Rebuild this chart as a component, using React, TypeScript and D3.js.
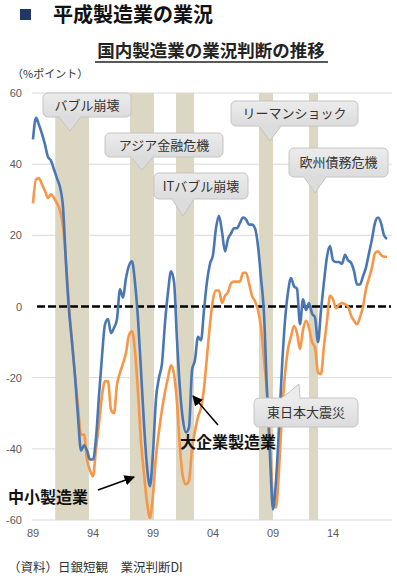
import React from "react";
import * as d3 from "d3";

// Quarterly data, 1989Q1 – 2018Q3 (Tankan business conditions DI)
const largeMfg: number[] = [
  47, 53, 51, 48.5, 45.5, 42, 41, 38.5, 36, 33.5,
  28, 12, -1, -10, -19.5, -31, -40.5, -39, -40.5, -43,
  -43, -37, -25, -14, -5, -3.5, -7.5, -6, -3.5, 4.8,
  2.5, 8, 11.5, 12.7, 6.7, -3.5, -18, -33, -45, -50.5,
  -41, -26, -20, -16, -4.6, 4, 9.9, 7, -9.5, -23.3,
  -32, -35.4, -34, -18, -15, -8.5, -9.5, -1, 7, 12,
  14.5, 22, 25.5, 21, 15.5, 19, 20.5, 22, 22, 23.5,
  25, 24.5, 23, 23, 22, 17, 8, -2, -24, -42,
  -57, -49, -34, -17, -4, 4, 8, 5.7, 5, -5,
  2, -1, 1, -2, -3, -10, -1, 7, 14, 17,
  13, 12.5, 12.5, 12, 14.5, 13, 12.3, 10, 6.2, 6.2,
  8.5, 11, 15, 19, 23.5, 25, 23.5, 20, 19,
];
const smallMfg: number[] = [
  29, 35.7, 36, 34.3, 32.5, 30.5, 31.5, 30.5, 29, 27,
  22.5, 13, 0, -10, -19.5, -28, -36, -36, -43, -46,
  -47.7, -40, -33, -25, -21, -21, -29, -30, -22, -18.6,
  -16, -13, -8, -7, -12.5, -24, -38, -47, -55, -59.4,
  -53, -42, -35, -29, -24, -20, -16.5, -19, -27, -40,
  -48, -50, -49, -40, -35, -31, -28.5, -23, -14, -5,
  2, 4.5, 4.5, 1, 3, 4, 6.5, 7, 7, 7,
  9.5, 9.5, 6.5, 3, 1.5, -1, -6, -15, -24, -37,
  -54, -56.5, -46, -30, -19, -12, -8.5, -5.5, -7.5, -12,
  -6.5, -4, -6, -10, -11.5, -18.5, -19, -11, -4, 3,
  2, -0.5, 0.5, 1, 0.6, 0, -2.5, -4, -5, -3,
  0, 5, 8, 11, 15, 15.5, 14.5, 14, 14,
];
const startYear = 1989;
const xTickYears: number[] = [1989, 1994, 1999, 2004, 2009, 2014];
const xTickLabels: string[] = ["89", "94", "99", "04", "09", "14"];
const yTicks: number[] = [60, 40, 20, 0, -20, -40, -60];
// recession bands (start year, end year)
const bandStarts: number[] = [1990.85, 1997.08, 2000.92, 2007.83, 2012.0];
const bandEnds: number[] = [1993.67, 1999.08, 2002.42, 2009.0, 2012.75];
const calloutTexts: string[] = ["バブル崩壊", "アジア金融危機", "ITバブル崩壊", "リーマンショック", "欧州債務危機", "東日本大震災"];

const W = 397;
const H = 579;
const JP = "'Noto Sans CJK JP', 'Noto Sans', sans-serif";
const NUM = "'Liberation Sans', Arial, sans-serif";

export default function App() {
  const x = d3.scaleLinear().domain([0, 118]).range([33, 387]);
  const y = d3.scaleLinear().domain([-60, 60]).range([520, 93]);
  const xYear = (yr: number) => x((yr - startYear) * 4);

  const line = d3
    .line<number>()
    .x((_, i) => x(i))
    .y((d) => y(d))
    .curve(d3.curveMonotoneX);

  // callout layout: box [x0, y0, x1, y1], pointer [baseL, baseR, tipX, tipY]
  const boxes = [
    { b: [43, 93, 131, 117], p: [59, 81, 70, 131] },
    { b: [105, 133, 223, 157], p: [131, 153, 142, 170] },
    { b: [154, 173, 248, 199], p: [172, 194, 183, 216] },
    { b: [231, 101, 358, 126], p: [259, 281, 270, 141] },
    { b: [289, 148, 388, 177], p: [304, 326, 315, 193] },
    { b: [254, 398, 358, 427], p: [282, 300, 299, 384] },
  ];

  return (
    <svg
      width={W}
      height={H}
      viewBox={`0 0 ${W} ${H}`}
      style={{ position: "absolute", left: 0, top: 0, background: "#fff" }}
    >
      <defs>
        <marker id="arr" viewBox="0 0 10 10" refX="9" refY="5" markerWidth="7" markerHeight="7" orient="auto-start-reverse">
          <path d="M0,0 L10,5 L0,10 z" fill="#000" />
        </marker>
        <linearGradient id="cg" x1="0" y1="0" x2="0" y2="1">
          <stop offset="0" stopColor="#ececec" />
          <stop offset="1" stopColor="#dcdcdc" />
        </linearGradient>
      </defs>

      {/* Title */}
      <rect x={20} y={9} width={11} height={11} fill="#1f3864" />
      <text x={53} y={22} fontFamily={JP} fontWeight="bold" fontSize={20} fill="#111">
        平成製造業の業況
      </text>
      <text x={211} y={57} textAnchor="middle" fontFamily={JP} fontWeight="bold" fontSize={17.5} fill="#222">
        国内製造業の業況判断の推移
      </text>
      <line x1={95} x2={328} y1={62} y2={62} stroke="#222" strokeWidth={1.5} />
      <text x={12} y={78} fontFamily={JP} fontSize={11} fill="#333">
        （%ポイント）
      </text>

      {/* gridlines */}
      {yTicks.filter((t) => t !== 0).map((t) => (
        <line key={t} x1={32} x2={392} y1={y(t)} y2={y(t)} stroke="#d9d9d9" strokeWidth={1} />
      ))}

      {/* bands */}
      {bandStarts.map((s, i) => (
        <rect key={i} x={xYear(s)} y={y(60)} width={xYear(bandEnds[i]) - xYear(s)} height={y(-60) - y(60)} fill="#dcd7c2" />
      ))}

      {yTicks.map((t) => (
        <text key={t} x={22} y={y(t) + 4} textAnchor="end" fontFamily={NUM} fontSize={11} fill="#595959">
          {t}
        </text>
      ))}
      {xTickYears.map((yr, i) => (
        <text key={yr} x={xYear(yr)} y={537} textAnchor="middle" fontFamily={NUM} fontSize={11} fill="#595959">
          {xTickLabels[i]}
        </text>
      ))}

      {/* zero line */}
      <line x1={37} x2={391} y1={y(0)} y2={y(0)} stroke="#000" strokeWidth={2.6} strokeDasharray="8,3" />

      {/* series */}
      <path d={line(smallMfg) || ""} fill="none" stroke="#f79646" strokeWidth={2.6} strokeLinejoin="round" />
      <path d={line(largeMfg) || ""} fill="none" stroke="#4a76b4" strokeWidth={2.6} strokeLinejoin="round" />

      {/* callouts */}
      {boxes.map((c, i) => {
        const [x0, y0, x1, y1] = c.b;
        const [bl, br, tx, ty] = c.p;
        const up = ty < y0;
        const edgeY = up ? y0 : y1;
        return (
          <g key={i}>
            <rect x={x0} y={y0} width={x1 - x0} height={y1 - y0} rx={5} fill="url(#cg)" stroke="#c4c4c4" strokeWidth={1} />
            <path d={`M${bl},${edgeY} L${tx},${ty} L${br},${edgeY} Z`} fill={up ? "#ececec" : "#dcdcdc"} stroke="#c4c4c4" strokeWidth={1} />
            <line x1={bl + 0.5} x2={br - 0.5} y1={edgeY} y2={edgeY} stroke={up ? "#ececec" : "#dcdcdc"} strokeWidth={2} />
            <text x={(x0 + x1) / 2} y={(y0 + y1) / 2 + 4.5} textAnchor="middle" fontFamily={JP} fontSize={13} fill="#333">
              {calloutTexts[i]}
            </text>
          </g>
        );
      })}

      {/* series labels */}
      <line x1={218} y1={425} x2={193} y2={396} stroke="#000" strokeWidth={1.5} markerEnd="url(#arr)" />
      <text x={180} y={448} fontFamily={JP} fontWeight="bold" fontSize={16} fill="#111">
        大企業製造業
      </text>
      <line x1={98} y1={490} x2={134} y2={477} stroke="#000" strokeWidth={1.5} markerEnd="url(#arr)" />
      <text x={8} y={503} fontFamily={JP} fontWeight="bold" fontSize={16} fill="#111">
        中小製造業
      </text>

      {/* source */}
      <text x={8} y={572} fontFamily={JP} fontSize={12.5} fill="#333">
        （資料）日銀短観　業況判断DI
      </text>
    </svg>
  );
}
